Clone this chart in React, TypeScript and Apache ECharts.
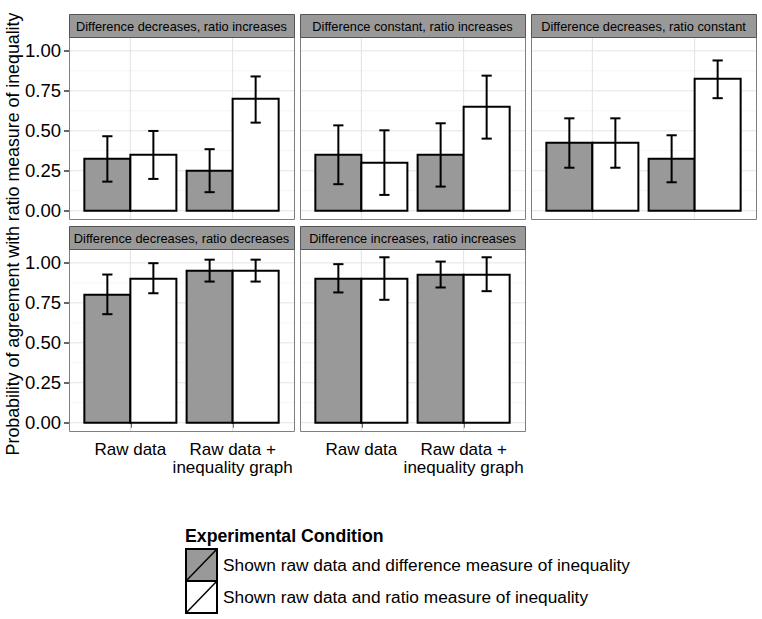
import React, { useEffect, useRef } from "react";
import * as echarts from "echarts";

const panelTitles = [
  "Difference decreases, ratio increases",
  "Difference constant, ratio increases",
  "Difference decreases, ratio constant",
  "Difference decreases, ratio decreases",
  "Difference increases, ratio increases",
];
const conditions = ["Raw data", "Raw data +\ninequality graph"];
const legendTitle = "Experimental Condition";
const seriesNames = [
  "Shown raw data and difference measure of inequality",
  "Shown raw data and ratio measure of inequality",
];
const yAxisTitle = "Probability of agreement with ratio measure of inequality";

// per panel: [Raw data, Raw data + inequality graph]
const diffMean = [[0.325, 0.25], [0.35, 0.35], [0.425, 0.325], [0.8, 0.95], [0.9, 0.925]];
const diffLow = [[0.182, 0.116], [0.166, 0.151], [0.269, 0.178], [0.679, 0.883], [0.815, 0.846]];
const diffHigh = [[0.466, 0.385], [0.534, 0.547], [0.578, 0.472], [0.927, 1.02], [0.992, 1.008]];
const ratioMean = [[0.35, 0.7], [0.3, 0.65], [0.425, 0.825], [0.9, 0.95], [0.9, 0.925]];
const ratioLow = [[0.199, 0.551], [0.099, 0.451], [0.269, 0.704], [0.81, 0.883], [0.769, 0.823]];
const ratioHigh = [[0.499, 0.84], [0.503, 0.845], [0.578, 0.94], [0.998, 1.02], [1.035, 1.035]];

const yTicks = [0, 0.25, 0.5, 0.75, 1];
const yMinorTicks = [0.125, 0.375, 0.625, 0.875];
const xTicks = [1, 2];

const FONT = "'Liberation Sans', Arial, Helvetica, sans-serif";
const Y_MIN = -0.05175;
const Y_MAX = 1.08675;
const X_MIN = 0.4;
const X_MAX = 2.6;

const panelLeft = [69, 300, 531, 69, 300];
const panelRow = [0, 0, 0, 1, 1];
const rowTop = [37, 249];
const PANEL_W = 225;
const PANEL_H = 182;
const STRIP_H = 23;
const BAR_FILL = ["#999999", "#ffffff"];

export default function App() {
  const ref = useRef<HTMLDivElement>(null);
  useEffect(() => {
    if (!ref.current) return;
    const chart = echarts.init(ref.current, null, { renderer: "svg" });

    const grids: any[] = [];
    const xAxes: any[] = [];
    const yAxes: any[] = [];
    const series: any[] = [];
    const graphics: any[] = [];

    panelTitles.forEach((title, i) => {
      const top = rowTop[panelRow[i]];
      const left = panelLeft[i];
      grids.push({
        left,
        top,
        width: PANEL_W,
        height: PANEL_H,
        show: true,
        backgroundColor: "#ffffff",
        borderWidth: 0,
      });
      const bottomRow = panelRow[i] === 1;
      const leftCol = left === panelLeft[0];
      xAxes.push({
        type: "value",
        gridIndex: i,
        min: X_MIN,
        max: X_MAX,
        axisLine: { show: false },
        splitLine: { show: false },
        axisTick: {
          show: bottomRow,
          customValues: xTicks,
          length: 5,
          lineStyle: { color: "#333333", width: 1.5 },
        },
        axisLabel: {
          show: bottomRow,
          customValues: xTicks,
          formatter: (v: number) => conditions[Math.round(v) - 1] ?? "",
          margin: 9,
          fontSize: 17,
          lineHeight: 18,
          color: "#000000",
          fontFamily: FONT,
        },
      });
      yAxes.push({
        type: "value",
        gridIndex: i,
        min: Y_MIN,
        max: Y_MAX,
        axisLine: { show: false },
        splitLine: { show: false },
        axisTick: {
          show: leftCol,
          customValues: yTicks,
          length: 5,
          lineStyle: { color: "#333333", width: 1.5 },
        },
        axisLabel: {
          show: leftCol,
          customValues: yTicks,
          formatter: (v: number) => v.toFixed(2),
          margin: 8,
          fontSize: 18.5,
          color: "#000000",
          fontFamily: FONT,
        },
      });

      // grid lines
      const gl: number[][] = [];
      yMinorTicks.forEach((v) => gl.push([0, v, 0]));
      yTicks.forEach((v) => gl.push([0, v, 1]));
      xTicks.forEach((v) => gl.push([1, v, 1]));
      series.push({
        type: "custom",
        xAxisIndex: i,
        yAxisIndex: i,
        silent: true,
        z: 1,
        data: gl,
        renderItem: (params: any, api: any) => {
          const orient = api.value(0);
          const v = api.value(1);
          const major = api.value(2);
          let a, b;
          if (orient === 0) {
            a = api.coord([X_MIN, v]);
            b = api.coord([X_MAX, v]);
          } else {
            a = api.coord([v, Y_MIN]);
            b = api.coord([v, Y_MAX]);
          }
          return {
            type: "line",
            shape: { x1: a[0], y1: a[1], x2: b[0], y2: b[1] },
            style: { stroke: major ? "#e3e3e3" : "#f5f5f5", lineWidth: 1 },
          };
        },
      });

      // bars + error bars
      const barData: number[][] = [];
      [0, 1].forEach((c) => {
        barData.push([c + 1, 0, diffMean[i][c], diffLow[i][c], diffHigh[i][c]]);
        barData.push([c + 1, 1, ratioMean[i][c], ratioLow[i][c], ratioHigh[i][c]]);
      });
      series.push({
        type: "custom",
        name: title,
        xAxisIndex: i,
        yAxisIndex: i,
        silent: true,
        z: 5,
        data: barData,
        renderItem: (params: any, api: any) => {
          const cat = api.value(0);
          const grp = api.value(1);
          const mean = api.value(2);
          const lo = api.value(3);
          const hi = api.value(4);
          const dodge = 0.45;
          const x0 = cat - dodge + grp * dodge;
          const x1 = x0 + dodge;
          const xc = (x0 + x1) / 2;
          const p0 = api.coord([x0, mean]);
          const p1 = api.coord([x1, 0]);
          const pl = api.coord([xc, lo]);
          const ph = api.coord([xc, hi]);
          const half = api.coord([xc + 0.05, lo])[0] - pl[0];
          const ls = { stroke: "#000000", lineWidth: 2 };
          return {
            type: "group",
            children: [
              {
                type: "rect",
                shape: { x: p0[0], y: p0[1], width: p1[0] - p0[0], height: p1[1] - p0[1] },
                style: { fill: BAR_FILL[grp], stroke: "#000000", lineWidth: 2 },
              },
              { type: "line", shape: { x1: pl[0], y1: pl[1], x2: ph[0], y2: ph[1] }, style: ls },
              { type: "line", shape: { x1: pl[0] - half, y1: pl[1], x2: pl[0] + half, y2: pl[1] }, style: ls },
              { type: "line", shape: { x1: ph[0] - half, y1: ph[1], x2: ph[0] + half, y2: ph[1] }, style: ls },
            ],
          };
        },
      });

      // panel border
      graphics.push({
        type: "rect",
        z: 100,
        shape: { x: left + 0.5, y: top + 0.5, width: PANEL_W, height: PANEL_H },
        style: { fill: "none", stroke: "#7f7f7f", lineWidth: 1 },
        silent: true,
      });
      // strip
      graphics.push({
        type: "rect",
        z: 100,
        shape: { x: left + 0.5, y: top - STRIP_H + 0.5, width: PANEL_W, height: STRIP_H },
        style: { fill: "#999999", stroke: "#555555", lineWidth: 1 },
        silent: true,
      });
      graphics.push({
        type: "text",
        z: 101,
        x: left + PANEL_W / 2,
        y: top - STRIP_H / 2 + 1,
        style: {
          text: title,
          fill: "#000000",
          font: `12.8px ${FONT}`,
          align: "center",
          verticalAlign: "middle",
        },
        silent: true,
      });
    });

    // y-axis title
    graphics.push({
      type: "text",
      x: 13,
      y: (rowTop[0] + rowTop[1] + PANEL_H) / 2,
      rotation: Math.PI / 2,
      style: {
        text: yAxisTitle,
        fill: "#000000",
        font: `17.8px ${FONT}`,
        align: "center",
        verticalAlign: "middle",
      },
    });

    // legend
    const legX = 185;
    graphics.push({
      type: "text",
      x: legX,
      y: 536,
      style: {
        text: legendTitle,
        fill: "#000000",
        font: `bold 17.7px ${FONT}`,
        align: "left",
        verticalAlign: "middle",
      },
    });
    seriesNames.forEach((name, k) => {
      const ky = 549 + k * 32;
      graphics.push({
        type: "rect",
        shape: { x: legX + 1, y: ky, width: 31, height: 32 },
        style: { fill: BAR_FILL[k], stroke: "#000000", lineWidth: 2 },
      });
      graphics.push({
        type: "line",
        shape: { x1: legX + 1, y1: ky + 32, x2: legX + 32, y2: ky },
        style: { stroke: "#000000", lineWidth: 1.5 },
      });
      graphics.push({
        type: "text",
        x: legX + 38,
        y: ky + 16,
        style: {
          text: name,
          fill: "#000000",
          font: `17.3px ${FONT}`,
          align: "left",
          verticalAlign: "middle",
        },
      });
    });

    chart.setOption({
      animation: false,
      backgroundColor: "#ffffff",
      grid: grids,
      xAxis: xAxes,
      yAxis: yAxes,
      series,
      graphic: graphics,
    });
    return () => chart.dispose();
  }, []);
  return (
    <div
      ref={ref}
      style={{ position: "fixed", left: 0, top: 0, width: 762, height: 619 }}
    />
  );
}
